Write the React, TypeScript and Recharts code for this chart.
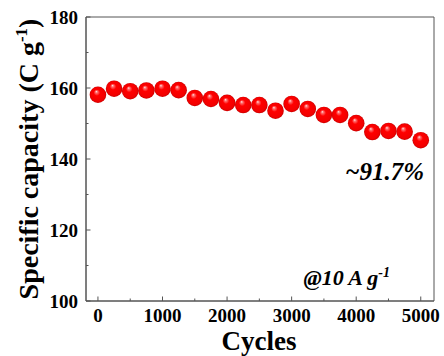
import React from 'react';
import { ScatterChart, Scatter, XAxis, YAxis, ReferenceArea } from 'recharts';

const cycles = [0, 250, 500, 750, 1000, 1250, 1500, 1750, 2000, 2250, 2500, 2750, 3000, 3250, 3500, 3750, 4000, 4250, 4500, 4750, 5000];
const capacity = [158.1, 159.8, 159.1, 159.3, 159.8, 159.4, 157.2, 156.9, 155.8, 155.2, 155.2, 153.6, 155.5, 154.1, 152.4, 152.4, 150.1, 147.6, 147.9, 147.7, 145.3];
const xTicks = [0, 500, 1000, 1500, 2000, 2500, 3000, 3500, 4000, 4500, 5000];
const xLabels = [0, 1000, 2000, 3000, 4000, 5000];
const yTicks = [100, 110, 120, 130, 140, 150, 160, 170, 180];
const yLabels = [100, 120, 140, 160, 180];

const data = cycles.map((c, i) => ({ cycle: c, cap: capacity[i] }));

const FONT = "'Liberation Serif', 'DejaVu Serif', serif";
const AXIS = '#555';

const txt = (extra: any = {}) => ({ fontFamily: FONT, fontWeight: 'bold', ...extra });

const YTick = (props: any) => {
  const { x, y, payload } = props;
  const v = payload.value;
  const major = yLabels.includes(v);
  const ax = x + 6;
  return (
    <g>
      <line x1={ax} x2={ax + (major ? 4.5 : 2.5)} y1={y} y2={y} stroke={AXIS} strokeWidth={1} />
      {major && (
        <text x={x - 2} y={y + 6.5} textAnchor="end" style={txt({ fontSize: 19 })} fill="#000">
          {v}
        </text>
      )}
    </g>
  );
};

const XTick = (props: any) => {
  const { x, y, payload } = props;
  const v = payload.value;
  const major = xLabels.includes(v);
  return (
    <g>
      <line x1={x} x2={x} y1={y} y2={y - (major ? 4.5 : 2.5)} stroke={AXIS} strokeWidth={1} />
      {major && (
        <text x={x} y={y + 21} textAnchor="middle" style={txt({ fontSize: 19 })} fill="#000">
          {v}
        </text>
      )}
    </g>
  );
};

const Ball = (props: any) => {
  const { cx, cy, index } = props;
  const id = `ball-${index}`;
  return (
    <g>
      <defs>
        <radialGradient id={id} cx="0.5" cy="0.5" r="0.5" fx="0.4" fy="0.3">
          <stop offset="0" stopColor="#ffe6e6" />
          <stop offset="0.14" stopColor="#ff7070" />
          <stop offset="0.38" stopColor="#ff0000" />
          <stop offset="0.85" stopColor="#f20000" />
          <stop offset="1" stopColor="#c80000" />
        </radialGradient>
      </defs>
      <circle cx={cx} cy={cy} r={8.3} fill={`url(#${id})`} />
    </g>
  );
};

export default function App() {
  return (
    <div style={{ position: 'absolute', left: 0, top: 0, width: 444, height: 356, background: '#fff', fontFamily: FONT }}>
      <ScatterChart width={444} height={356} margin={{ top: 17, right: 10, bottom: 0, left: 0 }}>
        <XAxis
          dataKey="cycle"
          type="number"
          domain={[-185, 5205]}
          ticks={xTicks}
          interval={0}
          height={55}
          tickSize={0}
          tickMargin={0}
          tick={<XTick />}
          axisLine={{ stroke: AXIS }}
          tickLine={false}
        />
        <YAxis
          dataKey="cap"
          type="number"
          domain={[100, 180]}
          ticks={yTicks}
          interval={0}
          width={86}
          tickSize={0}
          tickMargin={6}
          tick={<YTick />}
          axisLine={{ stroke: AXIS }}
          tickLine={false}
        />
        <ReferenceArea x1={-185} x2={5205} y1={100} y2={180} fill="none" stroke={AXIS} strokeWidth={1} />
        <Scatter data={data} shape={<Ball />} isAnimationActive={false} />
        <g>
          <text transform="rotate(-90)" x={-159} y={38} textAnchor="middle" style={txt({ fontSize: 28 })} fill="#000">
            Specific capacity (C g
            <tspan dy={-11} style={{ fontSize: 17 }}>-1</tspan>
            <tspan dy={11}>)</tspan>
          </text>
          <text x={259} y={349.5} textAnchor="middle" style={txt({ fontSize: 27 })} fill="#000">
            Cycles
          </text>
          <text x={424} y={180} textAnchor="end" style={txt({ fontSize: 25, fontStyle: 'italic' })} fill="#000">
            ~91.7%
          </text>
          <text x={390} y={285} textAnchor="end" style={{ fontFamily: FONT, fontStyle: 'italic', fontWeight: 600, fontSize: 22 }} fill="#000">
            @10 A g
            <tspan dy={-8} style={{ fontSize: 14 }}>-1</tspan>
          </text>
        </g>
      </ScatterChart>
    </div>
  );
}
